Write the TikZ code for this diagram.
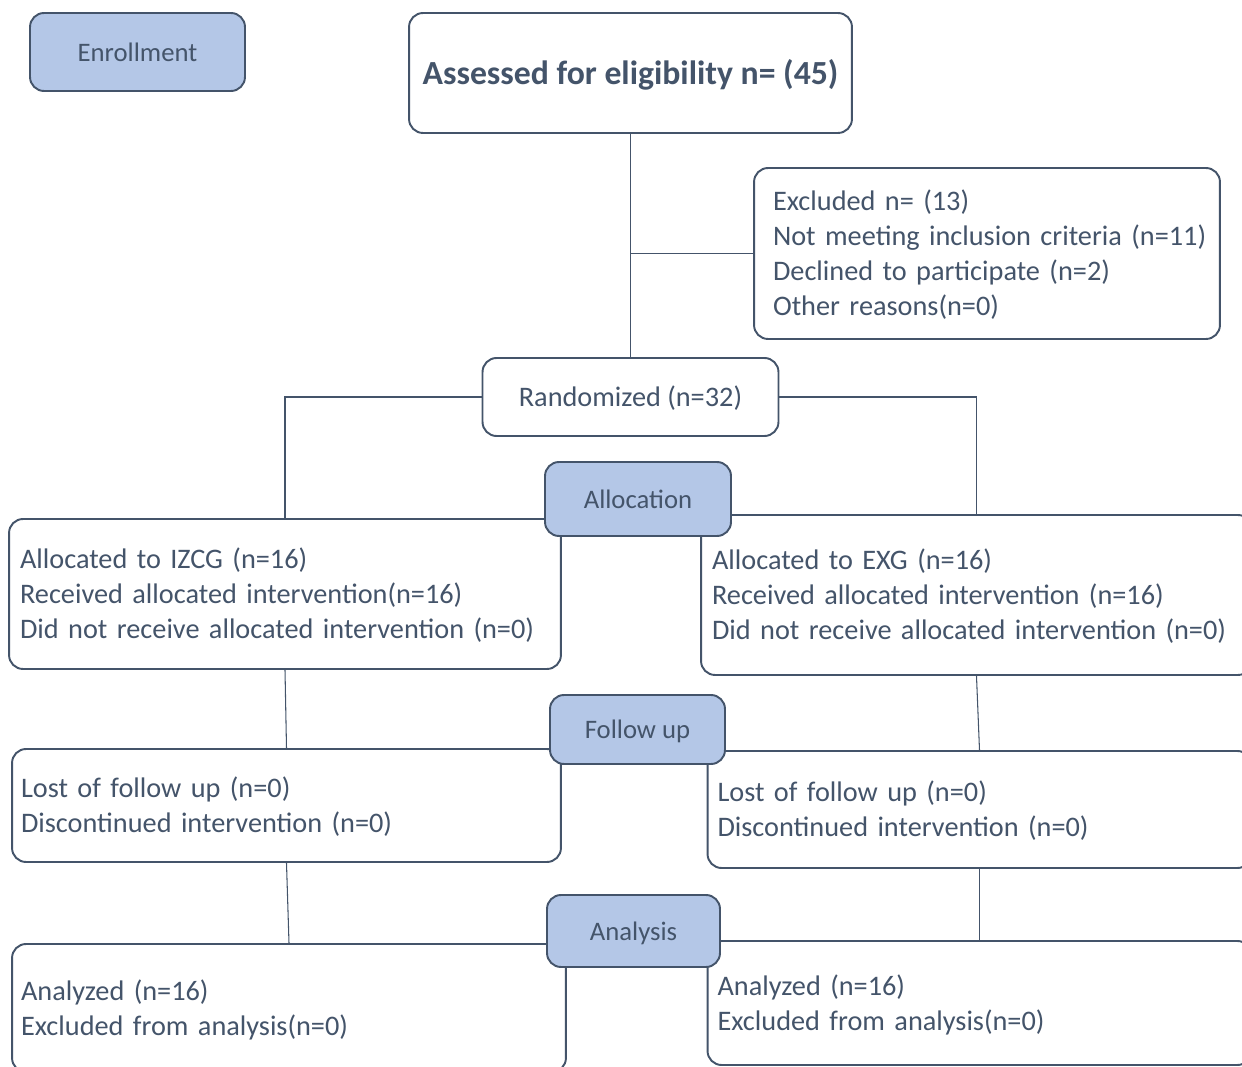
\documentclass[tikz,border=0pt]{standalone}
\usepackage{fontspec}
\setmainfont{Carlito}
\usepackage{tikz}
\usetikzlibrary{positioning,calc}
\definecolor{slate}{HTML}{44546A}
\definecolor{phaseblue}{HTML}{B4C7E7}
% struts so that text sits as in a word processor box
\newcommand{\firststrut}{\rule[-0.269em]{0pt}{1.221em}}
\newcommand{\laststrut}{\rule[-0.269em]{0pt}{0.269em}}

\begin{document}
\begin{tikzpicture}[x=0.02cm, y=-0.02cm, line width=0.6pt]
\tikzstyle{box}=[draw=slate,line width=1.1pt,rounded corners=0.28cm,fill=white,text=slate,
  font=\fontsize{16.1}{20}\selectfont,execute at begin node=\firststrut,execute at end node=\laststrut]
\tikzstyle{info}=[box,align=left,inner xsep=0.22cm]
\tikzstyle{phase}=[box,fill=phaseblue,font=\fontsize{15.2}{18}\selectfont]
\tikzstyle{link}=[draw=slate,line width=0.6pt]
\useasboundingbox (0,0) rectangle (1242,1067);
\clip (0,0) rectangle (1242,1067);

% main column
\node[box,minimum width=8.86cm,minimum height=2.4cm,font=\bfseries\fontsize{19.2}{23}\selectfont] (assess) at (630.5,73) {Assessed for eligibility n= (45)};
\node[info,text width=8.9cm,inner xsep=0.21cm,minimum height=3.42cm,execute at begin node={\leftskip=0.17cm}] (excl) at (987,253.5)
  {Excluded n= (13)\\Not meeting inclusion criteria (n=11)\\Declined to participate (n=2)\\Other reasons(n=0)};
\node[box,minimum width=5.92cm,minimum height=1.56cm] (rand) at (630.5,397) {Randomized (n=32)};

% two arms
\node[info,text width=10.6cm,minimum height=3.0cm] (izcg) at (285,594)
  {Allocated to IZCG (n=16)\\Received allocated intervention(n=16)\\Did not receive allocated intervention (n=0)};
\node[info,text width=10.58cm,minimum height=3.2cm] (exg) at (976.5,595)
  {Allocated to EXG (n=16)\\Received allocated intervention (n=16)\\Did not receive allocated intervention (n=0)};
\node[info,text width=10.62cm,inner xsep=0.18cm,minimum height=2.26cm] (lfol) at (286.5,805.5)
  {Lost of follow up (n=0)\\Discontinued intervention (n=0)};
\node[info,text width=10.48cm,inner xsep=0.2cm,minimum height=2.34cm] (rfol) at (979.5,809.5)
  {Lost of follow up (n=0)\\Discontinued intervention (n=0)};
\node[info,text width=10.72cm,inner xsep=0.18cm,minimum height=2.56cm] (lana) at (289,1008)
  {Analyzed (n=16)\\Excluded from analysis(n=0)};
\node[info,text width=10.48cm,inner xsep=0.2cm,minimum height=2.48cm] (rana) at (979.5,1003)
  {Analyzed (n=16)\\Excluded from analysis(n=0)};

% phase labels
\node[phase,minimum width=4.3cm,minimum height=1.56cm] (enrol) at (137.5,52) {Enrollment};
\node[phase,minimum width=3.72cm,minimum height=1.48cm] (alloc) at (638,499) {Allocation};
\node[phase,minimum width=3.5cm,minimum height=1.38cm] (follow) at (637.5,729.5) {Follow up};
\node[phase,minimum width=3.46cm,minimum height=1.44cm] (anal) at (633.5,931) {Analysis};

% connectors
\draw[link] (assess.south) -- (rand.north);
\draw[link] (excl.west) -- (excl.west -| assess.south);
\draw[link] (rand.west) -| (izcg.north);
\draw[link] (rand.east) -| (exg.north);
\draw[link] (izcg.south) -- (lfol.north);
\draw[link] (exg.south) -- (rfol.north);
\draw[link] (lfol.south) -- (lana.north);
\draw[link] (rfol.south) -- (rana.north);

\end{tikzpicture}
\end{document}
